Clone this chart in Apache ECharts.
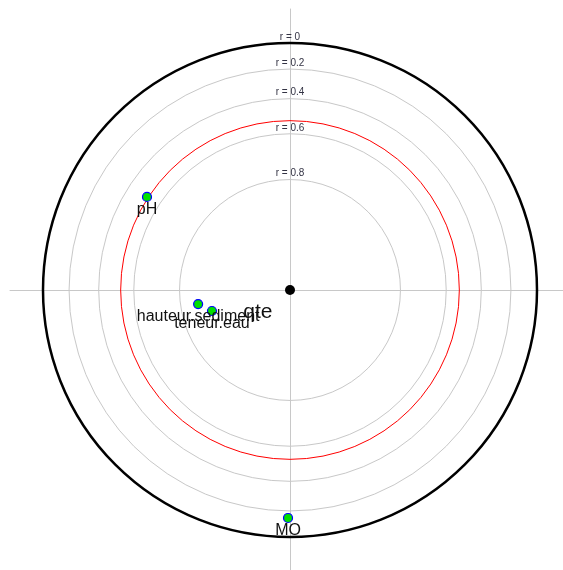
<!DOCTYPE html>
<html>
<head>
<meta charset="utf-8">
<script src="https://cdn.jsdelivr.net/npm/echarts@6/dist/echarts.min.js"></script>
<style>html,body{margin:0;padding:0;background:#fff;}#c{width:563px;height:570px;}</style>
</head>
<body>
<div id="c"></div>
<script>
// correlation levels of the grey rings (radius = sqrt(1 - r))
var ringLevels = [0, 0.2, 0.4, 0.6, 0.8];
var ringLabels = ['r = 0', 'r = 0.2', 'r = 0.4', 'r = 0.6', 'r = 0.8'];
// significance threshold (red ring)
var thresholdR = 0.53;
// variables
var varNames = ['pH', 'hauteur.sediment', 'teneur.eau', 'MO'];
var varX = [-0.579, -0.372, -0.316, -0.008];
var varY = [0.377, -0.057, -0.085, -0.923];
// central variable
var centerName = 'qte';
var centerLabelPos = [-0.13, -0.09];

function rad(r) { return Math.sqrt(1 - r); }

var chart = echarts.init(document.getElementById('c'), null, {renderer: 'canvas'});

function circleSeries(data, color, width, z) {
  return {
    type: 'custom',
    coordinateSystem: 'cartesian2d',
    silent: true,
    z: z,
    data: data,
    renderItem: function (params, api) {
      var c = api.coord([0, 0]);
      var rr = api.size([api.value(0), 0])[0];
      return {
        type: 'circle',
        shape: {cx: c[0], cy: c[1], r: rr},
        style: {fill: null, stroke: color, lineWidth: width}
      };
    }
  };
}

var greyRings = ringLevels.filter(function (r) { return r > 0; }).map(function (r) { return [rad(r)]; });

var option = {
  animation: false,
  backgroundColor: '#fff',
  grid: {left: 10, top: 9, right: 0, bottom: 0},
  xAxis: {
    type: 'value', min: -280 / 247, max: 273 / 247,
    axisLine: {onZero: true, lineStyle: {color: '#c8c8c8', width: 1}},
    axisTick: {show: false}, axisLabel: {show: false}, splitLine: {show: false}
  },
  yAxis: {
    type: 'value', min: -280 / 247, max: 281 / 247,
    axisLine: {onZero: true, lineStyle: {color: '#c8c8c8', width: 1}},
    axisTick: {show: false}, axisLabel: {show: false}, splitLine: {show: false}
  },
  series: [
    circleSeries(greyRings, '#c8c8c8', 1, 1),
    circleSeries([[rad(thresholdR)]], '#ff0000', 1, 2),
    circleSeries([[rad(0)]], '#000000', 2.5, 3),
    {
      type: 'scatter', z: 4, silent: true,
      symbolSize: 0,
      itemStyle: {opacity: 1},
      data: ringLevels.map(function (r, i) { return {value: [0, rad(r)], name: ringLabels[i]}; }),
      label: {
        show: true, position: 'inside', offset: [0, -6],
        formatter: function (p) { return p.name; },
        fontFamily: 'Liberation Sans, Arial, sans-serif', fontSize: 10, color: '#334'
      }
    },
    {
      type: 'scatter', z: 5, silent: true,
      symbol: 'circle', symbolSize: 9,
      itemStyle: {color: '#00e000', borderColor: '#0000ff', borderWidth: 1.2, opacity: 1},
      data: varNames.map(function (n, i) { return {value: [varX[i], varY[i]], name: n}; }),
      label: {
        show: true, position: 'inside', offset: [0, 13],
        formatter: function (p) { return p.name; },
        fontFamily: 'Liberation Sans, Arial, sans-serif', fontSize: 16, color: '#111'
      }
    },
    {
      type: 'scatter', z: 6, silent: true,
      symbol: 'circle', symbolSize: 10,
      itemStyle: {color: '#000', opacity: 1},
      data: [{value: [0, 0], name: centerName}],
      label: {show: false}
    },
    {
      type: 'scatter', z: 6, silent: true,
      symbolSize: 0,
      itemStyle: {opacity: 1},
      data: [{value: centerLabelPos, name: centerName}],
      label: {
        show: true, position: 'inside',
        formatter: function (p) { return p.name; },
        fontFamily: 'Liberation Sans, Arial, sans-serif', fontSize: 21, color: '#111'
      }
    }
  ]
};
chart.setOption(option);
</script>
</body>
</html>
